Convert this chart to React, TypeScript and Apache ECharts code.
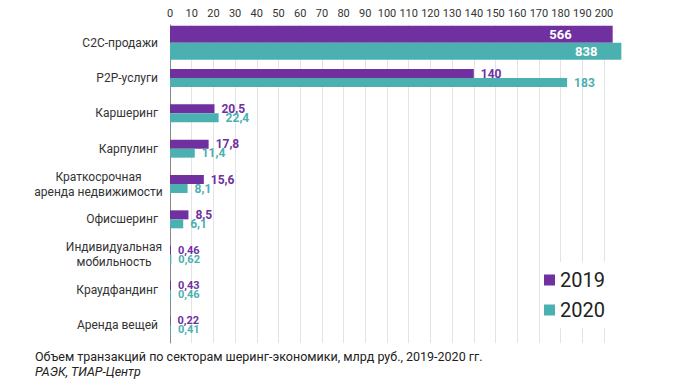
import React, { useEffect, useRef } from "react";
import * as echarts from "echarts";

const categories = [
  "C2C-продажи",
  "P2P-услуги",
  "Каршеринг",
  "Карпулинг",
  "Краткосрочная\nаренда недвижимости",
  "Офисшеринг",
  "Индивидуальная\nмобильность",
  "Краудфандинг",
  "Аренда вещей",
];
const values2019 = [566, 140, 20.5, 17.8, 15.6, 8.5, 0.46, 0.43, 0.22];
const values2020 = [838, 183, 22.4, 11.4, 8.1, 6.1, 0.62, 0.46, 0.41];
// C2C bars run off the scale in the original; drawn length in axis units
const c2cDrawn2019 = 204;
const c2cDrawn2020 = 208;
const xTicks = { min: 0, max: 200, interval: 10 };

const PURPLE = "#7030a0";
const TEAL = "#4bb0b0";
const FONT = "Roboto";

const fmt = (v: number) => String(v).replace(".", ",");

export default function App() {
  const ref = useRef<HTMLDivElement>(null);
  useEffect(() => {
    if (!ref.current) return;
    const chart = echarts.init(ref.current, null, { renderer: "svg" });

    const isSmall = (i: number) => i >= 6;
    const normalSeries = (name: string, vals: number[], color: string) => ({
      name,
      type: "bar",
      yAxisIndex: 0,
      barWidth: 9,
      barGap: "0%",
      itemStyle: { color },
      data: vals.map((v, i) =>
        i === 0
          ? "-"
          : {
              value: v,
              label: {
                show: true,
                position: "right",
                distance: 7,
                color,
                fontWeight: "bold",
                fontFamily: FONT,
                fontSize: isSmall(i) ? 11 : 12,
                lineHeight: isSmall(i) ? 9 : 12,
                formatter: () => fmt(v),
              },
            }
      ),
    });
    const bigSeries = (name: string, vals: number[], drawn: number, color: string, dist: number) => ({
      name,
      type: "bar",
      yAxisIndex: 1,
      barWidth: 17,
      barGap: "0%",
      clip: false,
      itemStyle: { color },
      data: vals.map((v, i) =>
        i === 0
          ? {
              value: drawn,
              label: {
                show: true,
                position: "insideRight",
                distance: dist,
                color: "#fff",
                fontWeight: "bold",
                fontFamily: FONT,
                fontSize: 13,
                formatter: () => fmt(v),
              },
            }
          : "-"
      ),
    });

    chart.setOption({
      animation: false,
      textStyle: { fontFamily: FONT },
      grid: { left: 170, right: 91, top: 25, bottom: 42 },
      xAxis: {
        type: "value",
        position: "top",
        min: xTicks.min,
        max: xTicks.max,
        interval: xTicks.interval,
        axisLine: { show: false },
        axisTick: { show: false },
        axisLabel: { color: "#333", fontSize: 11, margin: 6, fontFamily: FONT },
        splitLine: { lineStyle: { color: "#e3e3e3" } },
      },
      yAxis: [
        {
          type: "category",
          data: categories,
          inverse: true,
          axisLine: { show: true, lineStyle: { color: "#888" } },
          axisTick: { show: false },
          axisLabel: {
            margin: 12,
            formatter: (v: string) => {
              const lines = v.split("\n");
              if (lines.length === 1) return `{s|${v}}`;
              const key = lines[0].indexOf("Кратк") === 0 ? "w1" : "w2";
              return lines.map((s) => `{${key}|${s}}`).join("\n");
            },
            rich: {
              s: { color: "#333", fontSize: 12, fontFamily: FONT },
              w1: { color: "#333", fontSize: 12, fontFamily: FONT, width: 119, align: "center", lineHeight: 15 },
              w2: { color: "#333", fontSize: 12, fontFamily: FONT, width: 88, align: "center", lineHeight: 15 },
            },
          },
        },
        {
          type: "category",
          data: categories,
          inverse: true,
          show: false,
        },
      ],
      legend: {
        orient: "vertical",
        left: 542,
        top: 262,
        padding: [8, 2, 8, 2],
        backgroundColor: "#fff",
        itemWidth: 11,
        itemHeight: 11,
        itemGap: 10,
        itemTextGap: 6,
        icon: "rect",
        data: ["2019", "2020"],
        textStyle: { fontSize: 20, color: "#222", fontFamily: FONT },
      },
      graphic: [
        {
          type: "text",
          left: 35,
          top: 350,
          style: {
            text: "Объем транзакций по секторам шеринг-экономики, млрд руб., 2019-2020 гг.",
            fontSize: 12.5,
            fontFamily: FONT,
            fill: "#222",
          },
        },
        {
          type: "text",
          left: 35,
          top: 365,
          style: {
            text: "РАЭК, ТИАР-Центр",
            fontSize: 12.5,
            fontStyle: "italic",
            fontFamily: FONT,
            fill: "#222",
          },
        },
      ],
      series: [
        normalSeries("2019", values2019, PURPLE),
        normalSeries("2020", values2020, TEAL),
        bigSeries("2019", values2019, c2cDrawn2019, PURPLE, 41),
        bigSeries("2020", values2020, c2cDrawn2020, TEAL, 24),
      ],
    });
    return () => chart.dispose();
  }, []);
  return <div ref={ref} style={{ width: 695, height: 385, position: "absolute", left: 0, top: 0 }} />;
}
